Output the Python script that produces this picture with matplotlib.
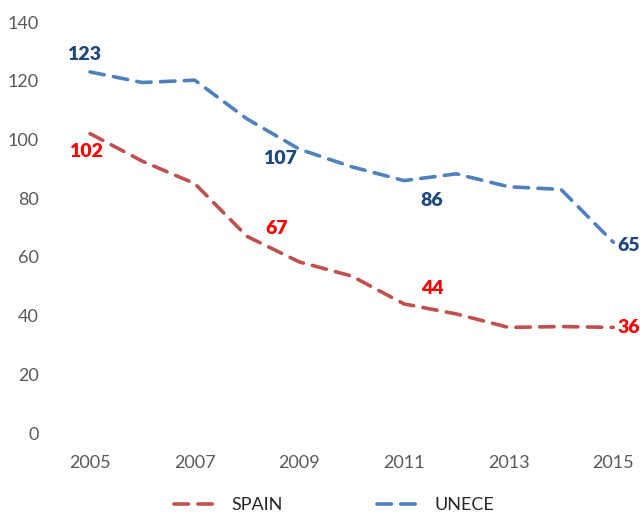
import matplotlib.pyplot as plt
import numpy as np

# data
years = np.arange(2005, 2016)
spain = [102, 92.6, 85, 67, 58.3, 53.5, 44, 40.6, 36, 36.3, 36]
unece = [123, 119.4, 120.2, 107, 96.7, 90.7, 86, 88.3, 83.9, 83, 65]

# which points carry a data label
spain_label_years = [2005, 2008, 2011, 2015]
unece_label_years = [2005, 2008, 2011, 2015]

plt.rcParams['font.family'] = ['Lato', 'DejaVu Sans']

fig = plt.figure(figsize=(6.4, 5.12), dpi=100)
ax = fig.add_axes([0.108, 0.154, 0.883, 0.803])

spain_col = '#C0504D'
unece_col = '#4F81BD'

ax.plot(years, spain, color=spain_col, lw=2.6, dashes=(4, 2.6),
        dash_capstyle='round', label='SPAIN', clip_on=False)
ax.plot(years, unece, color=unece_col, lw=2.6, dashes=(4, 2.6),
        dash_capstyle='round', label='UNECE', clip_on=False)

# label offsets in pixels (dx, dy)
spain_offsets = [(-4, -18), (30, 8), (28, 15), (15, 0)]
unece_offsets = [(-6, 17), (33, -40), (28, -20), (15, -3)]

for yr, off in zip(spain_label_years, spain_offsets):
    v = spain[yr - 2005]
    ax.annotate(f'{v:.0f}', (yr, v), xytext=off, textcoords='offset pixels',
                ha='center', va='center', fontsize=14, fontweight='heavy',
                color='#FF0000', annotation_clip=False)
for yr, off in zip(unece_label_years, unece_offsets):
    v = unece[yr - 2005]
    ax.annotate(f'{v:.0f}', (yr, v), xytext=off, textcoords='offset pixels',
                ha='center', va='center', fontsize=14, fontweight='heavy',
                color='#1F497D', annotation_clip=False)

ax.set_xlim(2004.6, 2015.4)
ax.set_ylim(0, 140)
ax.set_xticks(np.arange(2005, 2016, 2))
ax.set_yticks(np.arange(0, 141, 20))
ax.tick_params(length=0, labelsize=13, colors='#595959')
ax.tick_params(axis='x', pad=16)
ax.tick_params(axis='y', pad=22)
for s in ax.spines.values():
    s.set_visible(False)

fig.legend(loc='lower center', bbox_to_anchor=(0.522, -0.034), ncol=2,
           frameon=False, fontsize=13, handlelength=2.4, columnspacing=5.2,
           labelcolor='#262626')

fig.savefig('out.png', dpi=100)
